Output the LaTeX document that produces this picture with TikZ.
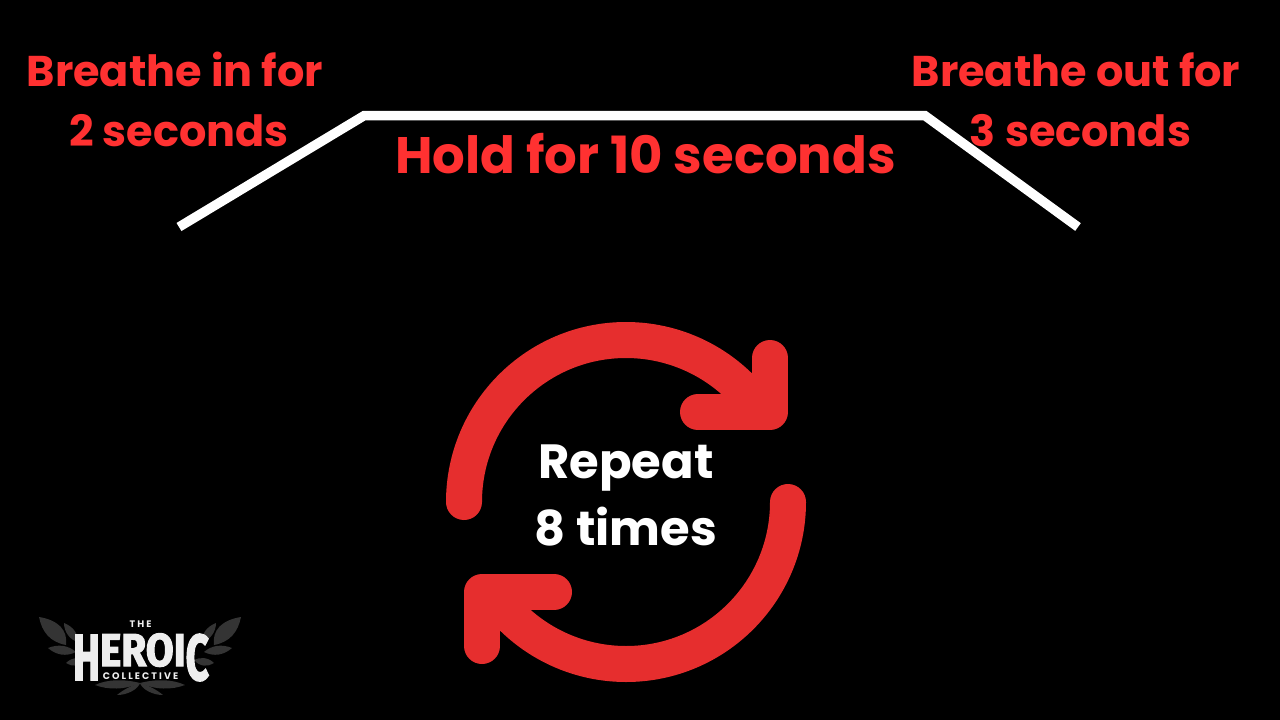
\documentclass[tikz,border=0pt]{standalone}
\usepackage{fontspec}
\usepackage{graphicx}
\usepackage{xcolor}
\usepackage{tikz}
\usetikzlibrary{positioning, calc}
\setmainfont{Poppins}
\newfontfamily\logofont{Fira Sans}[FakeBold=2.5]
\newfontfamily\logosmall{Poppins}[LetterSpace=22]
\definecolor{accent}{RGB}{255, 49, 49}
\definecolor{looped}{RGB}{230, 46, 46}
\definecolor{leafgray}{RGB}{52, 52, 52}
\definecolor{logowhite}{RGB}{238, 238, 238}
\newcommand{\tallchar}[1]{\raisebox{-14pt}{\scalebox{1}[1.41]{#1}}}

\begin{document}
\begin{tikzpicture}[
          x=1pt, y=-1pt,
          lbl/.style={font=\bfseries\fontsize{43}{60}\selectfont, text=accent, align=center, inner sep=0pt},
          big/.style={font=\bfseries\fontsize{51.3}{60}\selectfont, text=accent, inner sep=0pt},
          rpt/.style={font=\bfseries\fontsize{48}{67}\selectfont, text=white, align=center, inner sep=0pt},
          curve/.style={draw=white, line width=9.5pt, line join=miter},
          loopline/.style={draw=looped, line width=36pt, line cap=round, line join=round},
          leaf/.style={fill=leafgray, draw=none},
          tiny/.style={font=\logosmall\bfseries\fontsize{9.5}{9.5}\selectfont, text=logowhite, inner sep=0pt}
        ]
        \useasboundingbox[fill=black] (0,0) rectangle (1280,720);
        % Breathing curve
        \coordinate (c0) at (179,227);
        \coordinate (c1) at (364,115.7);
        \coordinate (c2) at (925,115.7);
        \coordinate (c3) at (1078,227);
        \draw[curve] (c0) -- (c1) -- (c2) -- (c3);
        % Labels
        \node[lbl] (in) at (175,99.3) {Breathe in for\\\hspace*{8pt}2 seconds};
        \node[lbl] (out) at (1076,99.6) {Breathe out for\\\hspace*{9pt}3 seconds};
        \node[big] (hold) at (645.5,153.6) {Hold for 10 seconds};
        % Loop arrows
        \draw[loopline] (464,502) arc[start angle=180, end angle=326, radius=162];
        \draw[loopline] (770,358) -- (770,412) -- (698,412);
        \draw[loopline] (788,502) arc[start angle=0, end angle=146, radius=162];
        \draw[loopline] (482,646) -- (482,592) -- (554,592);
        \node[rpt] (rep) at (626,495) {Repeat\\8 times};
        % Logo
        \foreach \sx/\ox in {1/0, -1/280}{
          \begin{scope}[shift={(\ox,0)}, xscale=\sx]
            \fill[leaf] (39,617) .. controls (58,620) and (68,630) .. (66,645) .. controls (50,642) and (42,632) .. (39,617);
            \fill[leaf] (64,623) .. controls (74,627) and (78,634) .. (78,642) .. controls (70,640) and (64,632) .. (64,623);
            \fill[leaf] (48,648) .. controls (58,644) and (68,645) .. (76,652) .. controls (66,657) and (56,655) .. (48,648);
            \fill[leaf] (66,663) .. controls (72,657) and (80,657) .. (86,660) .. controls (80,667) and (72,667) .. (66,663);
            \fill[leaf] (95,685) .. controls (108,679) and (124,679) .. (140,683) .. controls (125,690) and (108,690) .. (95,685);
            \fill[leaf] (117,695) .. controls (123,690) and (132,685) .. (140,683) .. controls (138,689) and (128,695) .. (117,695);
          \end{scope}
        }
        \node[font=\logofont\bfseries\fontsize{46}{46}\selectfont, text=logowhite, inner sep=0pt, anchor=base] (heroic) at (141,666) {\scalebox{.88}[1]{\tallchar{H}EROI\tallchar{C}}};
        \node[tiny] (the) at (140.5,624.5) {THE};
        \node[tiny] (coll) at (140.5,676.5) {COLLECTIVE};
      \end{tikzpicture}
\end{document}
